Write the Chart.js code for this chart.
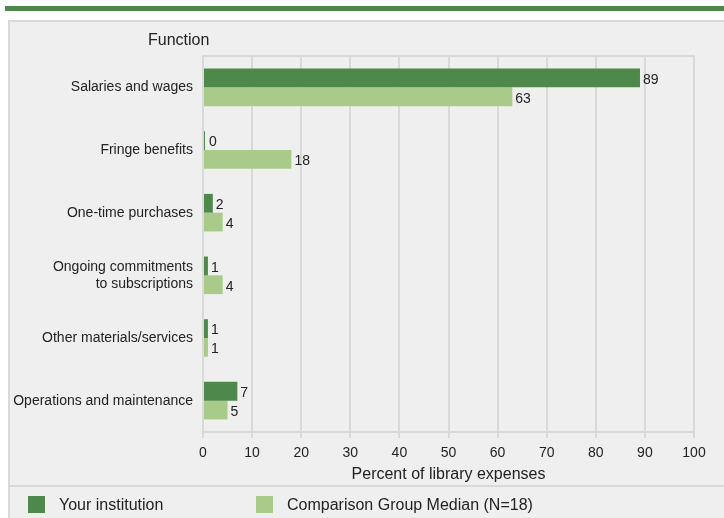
<!DOCTYPE html>
<html>
<head>
<meta charset="utf-8">
<script src="https://cdn.jsdelivr.net/npm/chart.js@4/dist/chart.umd.min.js"></script>
<style>
  html, body { margin: 0; padding: 0; background: #ffffff; }
  canvas { display: block; }
</style>
</head>
<body>
<canvas id="c" width="724" height="518"></canvas>
<script>
// Library expenses by function, percent of total
const categories = [
  'Salaries and wages',
  'Fringe benefits',
  'One-time purchases',
  ['Ongoing commitments', 'to subscriptions'],
  'Other materials/services',
  'Operations and maintenance'
];
const yourInstitution = [89, 0, 2, 1, 1, 7];
const comparisonMedian = [63, 18, 4, 4, 1, 5];
const seriesNames = ['Your institution', 'Comparison Group Median (N=18)'];
const xTicks = [0, 10, 20, 30, 40, 50, 60, 70, 80, 90, 100];

const DARK = '#4e894b';
const LIGHT = '#a9cb89';
const TEXT = '#222222';
const GRID = '#d9d9d9';
const PANEL = '#efefef';
const FONT = '"Liberation Sans", Arial, sans-serif';

// Page frame: green rule, grey panel, legend divider
const framePlugin = {
  id: 'frame',
  beforeDraw(chart) {
    const ctx = chart.ctx;
    ctx.save();
    ctx.fillStyle = '#ffffff';
    ctx.fillRect(0, 0, chart.width, chart.height);
    ctx.fillStyle = DARK;
    ctx.fillRect(5, 6, chart.width - 5, 5);
    ctx.fillStyle = PANEL;
    ctx.fillRect(8, 20, chart.width, chart.height);
    ctx.strokeStyle = GRID;
    ctx.lineWidth = 2;
    ctx.beginPath();
    ctx.moveTo(9, chart.height + 2);
    ctx.lineTo(9, 21);
    ctx.lineTo(chart.width + 2, 21);
    ctx.moveTo(9, 486);
    ctx.lineTo(chart.width, 486);
    ctx.stroke();
    ctx.restore();
  },
  beforeDatasetsDraw(chart) {
    const { ctx, chartArea } = chart;
    ctx.save();
    ctx.strokeStyle = GRID;
    ctx.lineWidth = 2;
    ctx.beginPath();
    ctx.moveTo(chartArea.left - 1, chartArea.top);
    ctx.lineTo(chartArea.right + 1, chartArea.top);
    ctx.stroke();
    ctx.restore();
  },
  afterDatasetsDraw(chart) {
    const ctx = chart.ctx;
    ctx.save();
    ctx.font = '14px ' + FONT;
    ctx.fillStyle = TEXT;
    ctx.textAlign = 'left';
    ctx.textBaseline = 'middle';
    chart.data.datasets.forEach((ds, i) => {
      const meta = chart.getDatasetMeta(i);
      meta.data.forEach((el, j) => {
        const end = Math.max(el.x, el.base + 2);
        ctx.fillText(String(ds.data[j]), end + 3, el.y + 2);
      });
    });
    ctx.restore();
  },
  afterDraw(chart) {
    const ctx = chart.ctx;
    ctx.save();
    ctx.fillStyle = TEXT;
    ctx.textBaseline = 'middle';
    ctx.textAlign = 'left';
    ctx.font = '16px ' + FONT;
    ctx.fillText('Function', 148, 41);
    // legend
    const boxX = [28, 256];
    chart.data.datasets.forEach((ds, i) => {
      ctx.fillStyle = ds.backgroundColor;
      ctx.fillRect(boxX[i], 496, 17, 17);
      ctx.fillStyle = TEXT;
      ctx.font = '16px ' + FONT;
      ctx.fillText(ds.label, boxX[i] + 31, 506);
    });
    ctx.restore();
  }
};

new Chart(document.getElementById('c'), {
  type: 'bar',
  data: {
    labels: categories,
    datasets: [
      { label: seriesNames[0], data: yourInstitution, backgroundColor: DARK,
        categoryPercentage: 0.6, barPercentage: 1.0, minBarLength: 2 },
      { label: seriesNames[1], data: comparisonMedian, backgroundColor: LIGHT,
        categoryPercentage: 0.6, barPercentage: 1.0 }
    ]
  },
  options: {
    indexAxis: 'y',
    responsive: false,
    animation: false,
    devicePixelRatio: 1,
    layout: { padding: { left: 0, right: 30, top: 56, bottom: 32 } },
    plugins: { legend: { display: false }, tooltip: { enabled: false } },
    scales: {
      x: {
        min: 0, max: 100,
        afterBuildTicks(scale) { scale.ticks = xTicks.map(v => ({ value: v })); },
        afterFit(scale) { scale.height = 54; },
        ticks: { color: TEXT, font: { family: FONT, size: 14 }, padding: 7, maxRotation: 0 },
        grid: { color: GRID, lineWidth: 2, tickLength: 6, drawTicks: true },
        border: { color: GRID, width: 2 },
        title: { display: true, text: 'Percent of library expenses', color: TEXT,
                 font: { family: FONT, size: 16 }, padding: { top: 0, bottom: 2 } }
      },
      y: {
        afterFit(scale) { scale.width = 203; },
        ticks: { color: TEXT, font: { family: FONT, size: 14 }, padding: 10 },
        grid: { display: false, drawTicks: false },
        border: { display: false }
      }
    }
  },
  plugins: [framePlugin]
});
</script>
</body>
</html>
